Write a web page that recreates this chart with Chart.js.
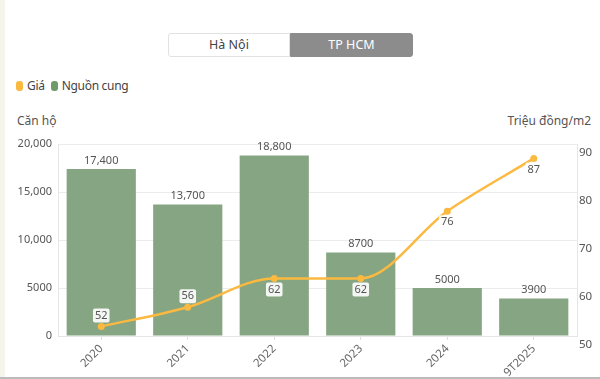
<!DOCTYPE html>
<html>
<head>
<meta charset="utf-8">
<title>Nguồn cung và giá căn hộ TP HCM</title>
<script src="https://cdn.jsdelivr.net/npm/chart.js@4"></script>
<style>
  body { margin: 0; width: 600px; height: 379px; background: #fff; font-family: "Noto Sans", sans-serif; overflow: hidden; position: relative; }
  .strip { position: absolute; left: 0; top: 0; width: 5px; height: 379px; background: #f7f4ec; }
  .bottom { position: absolute; left: 0; top: 377px; width: 600px; height: 2px; background: #bbb; }
  .tabs { position: absolute; left: 168px; top: 33px; height: 24px; display: flex; font-size: 12.5px; }
  .tabs div { box-sizing: border-box; width: 122px; height: 24px; line-height: 22px; text-align: center; border: 1px solid #e2e2e2; }
  .tabs .on { width: 123px; background: #8c8c8c; color: #fff; border-color: #8c8c8c; border-radius: 0 3px 3px 0; }
  .tabs .off { background: #fff; color: #444; border-radius: 3px 0 0 3px; }
  .legend { position: absolute; left: 16px; top: 77px; font-size: 12px; color: #444; display: flex; align-items: center; }
  .legend span.box { display: inline-block; width: 7px; height: 10px; border-radius: 3px; margin-right: 4px; }
  .legend span.txt { margin-right: 6px; letter-spacing: -0.3px; }
  .ttl { position: absolute; top: 112px; font-size: 12px; color: #555; }
  canvas { position: absolute; left: 0; top: 0; }
</style>
</head>
<body>
<div class="strip"></div>
<div class="tabs"><div class="off">Hà Nội</div><div class="on">TP HCM</div></div>
<div class="legend">
  <span class="box" style="background:#fbb940"></span><span class="txt">Giá</span>
  <span class="box" style="background:#6f9a69"></span><span class="txt">Nguồn cung</span>
</div>
<div class="ttl" style="left:17px">Căn hộ</div>
<div class="ttl" style="right:9px">Triệu đồng/m2</div>
<div class="bottom"></div>
<canvas id="myChart" width="600" height="379"></canvas>
<script type="text/javascript">
  // số liệu
  var years = ["2020", "2021", "2022", "2023", "2024", "9T2025"];
  var supply = [17400, 13700, 18800, 8700, 5000, 3900];
  var price = [52, 56, 62, 62, 76, 87];
  var priceLabelPos = ["above", "above", "below", "below", "below", "below"];

  function fmt(v) {
    return v >= 10000 ? v.toLocaleString("en-US") : String(v);
  }

  var labelPlugin = {
    id: "valueLabels",
    afterDatasetsDraw: function(chart) {
      var ctx = chart.ctx;
      ctx.save();
      ctx.font = "11px 'Noto Sans'";
      ctx.textAlign = "center";
      // nhãn cột
      chart.getDatasetMeta(1).data.forEach(function(bar, i) {
        ctx.fillStyle = "#555";
        ctx.textBaseline = "bottom";
        ctx.fillText(fmt(supply[i]), bar.x, bar.y - 3);
      });
      // nhãn đường giá
      chart.getDatasetMeta(0).data.forEach(function(pt, i) {
        var t = String(price[i]);
        var w = ctx.measureText(t).width + 4;
        var y = priceLabelPos[i] == "above" ? pt.y - 11 : pt.y + 11;
        ctx.fillStyle = "rgba(255,255,255,0.9)";
        ctx.beginPath();
        ctx.roundRect(pt.x - w / 2, y - 7, w, 14, 2);
        ctx.fill();
        ctx.fillStyle = "#555";
        ctx.textBaseline = "middle";
        ctx.fillText(t, pt.x, y);
      });
      ctx.restore();
    }
  };

  var ctx = document.getElementById("myChart").getContext("2d");
  var chart = new Chart(ctx, {
    type: "bar",
    data: {
      labels: years,
      datasets: [
        {
          type: "line",
          label: "Giá",
          data: price,
          yAxisID: "y1",
          borderColor: "#fbb940",
          backgroundColor: "#fbb940",
          borderWidth: 2.5,
          pointRadius: 3.5,
          pointBackgroundColor: "#fbb940",
          pointBorderWidth: 0,
          cubicInterpolationMode: "monotone",
          order: 0
        },
        {
          label: "Nguồn cung",
          data: supply,
          yAxisID: "y",
          backgroundColor: "#86a582",
          barPercentage: 0.8,
          categoryPercentage: 1,
          order: 1
        }
      ]
    },
    options: {
      responsive: false,
      animation: false,
      layout: { padding: { top: 144, left: 0, right: 0, bottom: 0 } },
      plugins: { legend: { display: false }, tooltip: { enabled: false } },
      scales: {
        x: {
          grid: { drawOnChartArea: false, offset: false, tickLength: 4, color: "#ddd" },
          border: { color: "#e6e6e6" },
          ticks: { minRotation: 45, maxRotation: 45, color: "#666", font: { family: "Noto Sans", size: 11.5 }, padding: 2 },
          afterFit: function(s) { s.height = 43; }
        },
        y: {
          position: "left",
          min: 0, max: 20000,
          ticks: { stepSize: 5000, color: "#555", font: { family: "Noto Sans", size: 11 }, padding: 6, callback: function(v) { return fmt(v); } },
          grid: { color: "#ececec", drawTicks: false },
          border: { color: "#e6e6e6" },
          afterFit: function(s) { s.width = 58; }
        },
        y1: {
          position: "right",
          min: 50, max: 90,
          ticks: { stepSize: 10, color: "#555", font: { family: "Noto Sans", size: 11.5 }, padding: 2, labelOffset: 9 },
          grid: { drawOnChartArea: false, drawTicks: false },
          border: { color: "#e6e6e6" },
          afterFit: function(s) { s.width = 23; }
        }
      }
    },
    plugins: [labelPlugin]
  });
</script>
</body>
</html>
